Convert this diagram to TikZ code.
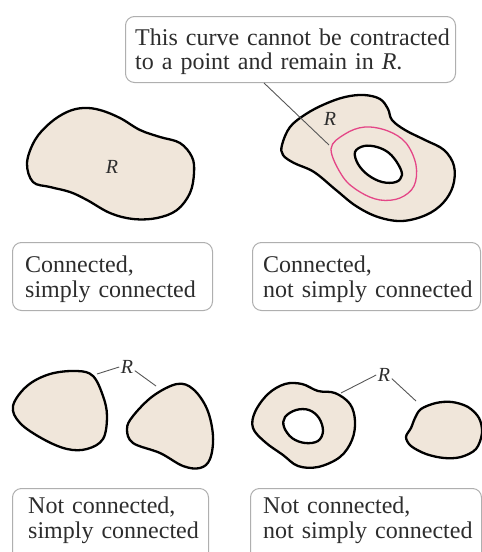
\documentclass[tikz,border=0pt]{standalone}
\usepackage{fontspec}
\setmainfont{Liberation Serif}
\definecolor{regfill}{RGB}{240,230,218}
\definecolor{pinkc}{RGB}{228,70,135}
\definecolor{boxgray}{RGB}{175,175,175}
\definecolor{txt}{RGB}{45,45,45}
\begin{document}
\begin{tikzpicture}[x=1pt,y=-1pt,
  region/.style={fill=regfill,draw=black,line width=2.3pt},
  hole/.style={fill=white,draw=black,line width=2.3pt},
  labelbox/.style={draw=boxgray,line width=1pt,rounded corners=9pt,fill=white,anchor=north west,inner sep=0pt},
  boxtext/.style={anchor=base west,inner sep=0pt,text=txt,text width=#1,align=left,font=\fontsize{24}{25}\selectfont},
  rlab/.style={inner sep=1.5pt,text=txt,font=\fontsize{20}{20}\selectfont\itshape},
  leader/.style={draw=txt!80,line width=0.9pt}]
\useasboundingbox (0,0) rectangle (482,552);
\clip (0,0) rectangle (482,552);

% boxes
\node[labelbox,minimum width=330pt,minimum height=66pt] (b1) at (125,16) {};
\node[labelbox,minimum width=200pt,minimum height=68pt] (b2) at (12,242) {};
\node[labelbox,minimum width=228pt,minimum height=68pt] (b3) at (252,242) {};
\node[labelbox,minimum width=196pt,minimum height=80pt] (b4) at (12,488) {};
\node[labelbox,minimum width=231pt,minimum height=80pt] (b5) at (250,488) {};

\node[boxtext=320pt,font=\fontsize{24}{24}\selectfont] (t1) at (135,45) {This curve cannot be contracted\\to a point and remain in \textit{R}.};
\node[boxtext=190pt] (t2) at (25,272) {Connected,\\simply connected};
\node[boxtext=225pt] (t3) at (263,272) {Connected,\\not simply connected};
\node[boxtext=190pt] (t4) at (28,513) {Not connected,\\simply connected};
\node[boxtext=225pt] (t5) at (263,513) {Not connected,\\not simply connected};

% region 1
\draw[region] plot[smooth cycle,tension=0.6] coordinates {(27,163) (35,140) (50,123) (67,112) (83,108) (100,110) (120,118) (140,130) (160,137) (180,143) (192,157) (194,173) (190,193) (177,210) (157,218) (133,219) (110,213) (87,200) (70,192) (50,187) (33,182)};
\node[rlab] (r1) at (112,167) {R};

% region 2
\draw[region] plot[smooth cycle,tension=0.6] coordinates {(282,145) (290,127) (306,114) (325,104) (345,97) (364,95) (380,99) (388,109) (392,120) (405,130) (425,140) (444,150) (454,166) (453,186) (443,203) (426,215) (402,221) (378,217) (356,206) (336,190) (314,172) (294,163) (283,155)};
\draw[hole] plot[smooth cycle,tension=0.6] coordinates {(355,152) (364,146) (377,147) (389,153) (398,164) (402,175) (396,182) (382,182) (368,175) (358,164)};
\draw[pinkc,line width=1.3pt] plot[smooth cycle,tension=0.6] coordinates {(331,149) (345,134) (365,127) (388,131) (406,143) (416,165) (414,186) (400,198) (380,200) (360,192) (343,177)};
\node[rlab] (r2) at (330,119) {R};
\coordinate (p2) at (329,145);
\draw[leader] ([xshift=139pt]b1.south west) -- (p2);

% region 3
\draw[region] plot[smooth cycle,tension=0.6] coordinates {(77,371) (93,376) (103,396) (107,416) (103,439) (87,449) (67,449) (43,439) (20,423) (13,406) (27,386) (50,374)};
\draw[region] plot[smooth cycle,tension=0.6] coordinates {(177,384) (193,389) (207,409) (213,436) (210,459) (200,468) (183,466) (160,453) (133,443) (127,429) (133,416) (153,396)};
\node[rlab] (r3) at (127,367) {R};
\coordinate (c3a) at (97,374);
\coordinate (c3b) at (156,386);
\draw[leader] (r3.west) -- (c3a);
\draw[leader] (r3.-25) -- (c3b);

% region 4
\draw[region] plot[smooth cycle,tension=0.6] coordinates {(255,412) (268,394) (285,384) (302,384) (318,391) (335,393) (350,404) (355,421) (352,440) (340,457) (318,467) (298,466) (283,455) (265,442) (253,428)};
\draw[hole] plot[smooth cycle,tension=0.6] coordinates {(285,417) (296,410) (309,410) (319,418) (323,431) (318,441) (305,443) (292,438) (284,427)};
\draw[region] plot[smooth cycle,tension=0.55] coordinates {(421,409) (436,403) (452,402) (468,407) (479,418) (482,433) (476,449) (461,457) (444,458) (426,454) (411,446) (406,437) (411,428) (415,418)};
\node[rlab] (r4) at (384,375) {R};
\coordinate (c4a) at (341,393);
\coordinate (c4b) at (416,401);
\draw[leader] (r4.west) -- (c4a);
\draw[leader] (r4.-25) -- (c4b);
\end{tikzpicture}
\end{document}
